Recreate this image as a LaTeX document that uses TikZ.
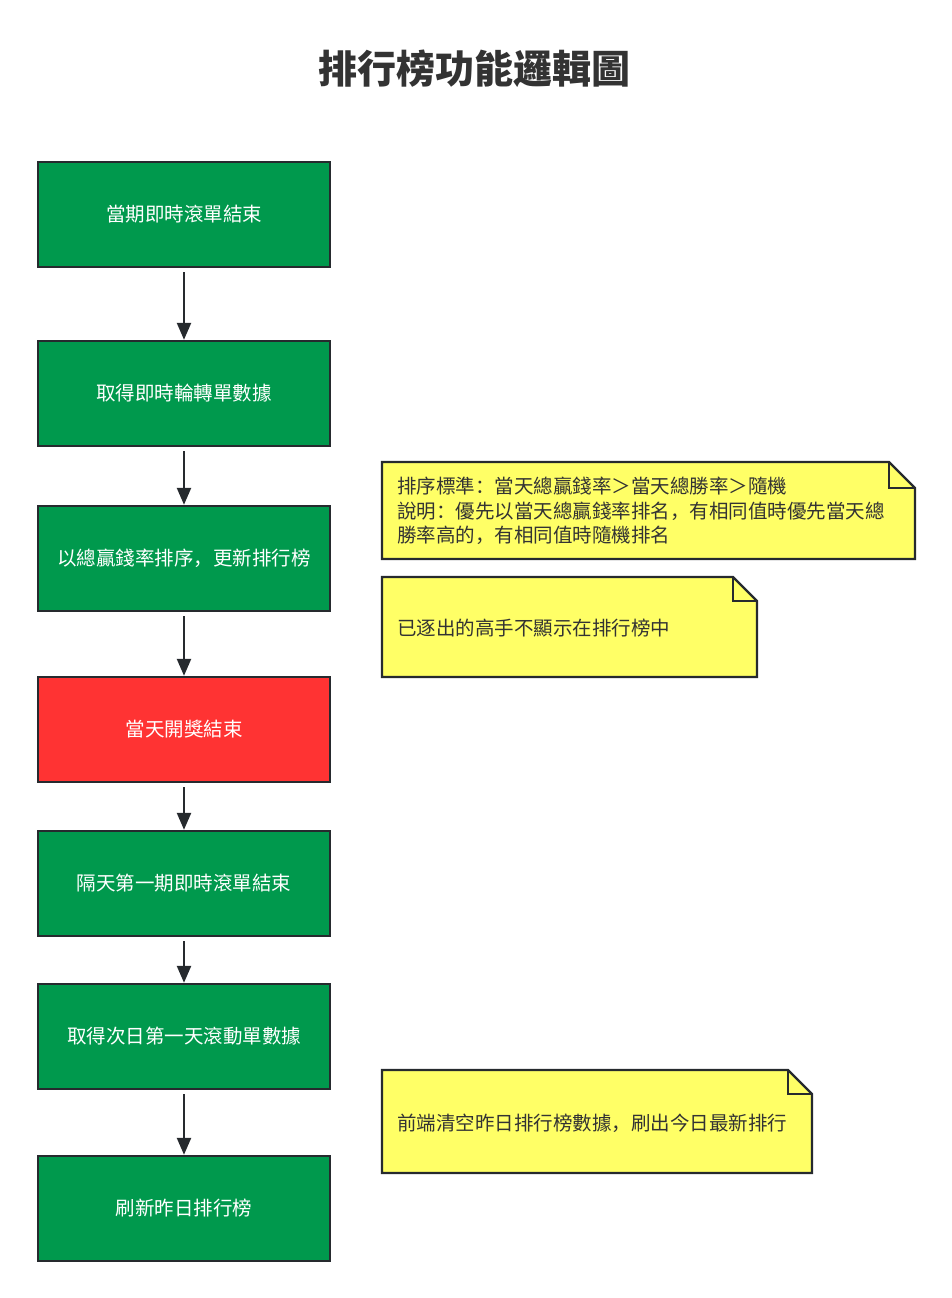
\documentclass[tikz,border=0pt]{standalone}
\usepackage{fontspec}
\setmainfont{Noto Sans CJK SC}
\usetikzlibrary{arrows.meta}
\definecolor{boxgreen}{RGB}{0,153,77}
\definecolor{boxred}{RGB}{255,51,51}
\definecolor{noteyellow}{RGB}{255,255,102}
\definecolor{edgecol}{RGB}{38,42,46}
\definecolor{txtcol}{RGB}{51,51,51}
\tikzset{
  stepbox/.style={draw=edgecol, line width=2.4pt, fill=boxgreen, minimum width=292pt, minimum height=105pt, inner sep=0pt, text=white, font=\fontsize{19.5}{23}\selectfont},
  redbox/.style={stepbox, fill=boxred},
  flow/.style={draw=edgecol, line width=2.4pt, -{Triangle[length=17pt,width=14pt]}, shorten <=4pt},
  notebox/.style={draw=edgecol, line width=2.4pt, fill=noteyellow, line join=miter},
  notetext/.style={anchor=west, text=txtcol, font=\fontsize{19.5}{24.5}\selectfont, align=left, inner sep=0pt}
}
\begin{document}
\begin{tikzpicture}[x=1pt,y=-1pt]
\useasboundingbox (0,0) rectangle (951,1298);
\node[text=txtcol, font=\fontsize{39}{44}\selectfont\bfseries] (title) at (474,69) {排行榜功能邏輯圖};

\node[stepbox] (b1) at (184,214.5) {當期即時滾單結束};
\node[stepbox] (b2) at (184,393.5) {取得即時輪轉單數據};
\node[stepbox] (b3) at (184,558.5) {以總贏錢率排序，更新排行榜};
\node[redbox]  (b4) at (184,729.5) {當天開獎結束};
\node[stepbox] (b5) at (184,883.5) {隔天第一期即時滾單結束};
\node[stepbox] (b6) at (184,1036.5) {取得次日第一天滾動單數據};
\node[stepbox] (b7) at (184,1208.5) {刷新昨日排行榜};

\draw[flow] (b1) -- (b2);
\draw[flow] (b2) -- (b3);
\draw[flow] (b3) -- (b4);
\draw[flow] (b4) -- (b5);
\draw[flow] (b5) -- (b6);
\draw[flow] (b6) -- (b7);

% note 1
\draw[notebox] (382,462) -- (889,462) -- (915,488) -- (915,559) -- (382,559) -- cycle;
\draw[notebox, fill=none] (889,462) -- (889,488) -- (915,488);
\node[notetext] (n1) at (397,511) {排序標準：當天總贏錢率＞當天總勝率＞隨機\\說明：優先以當天總贏錢率排名，有相同值時優先當天總\\勝率高的，有相同值時隨機排名};

% note 2
\draw[notebox] (382,577) -- (733,577) -- (757,601) -- (757,677) -- (382,677) -- cycle;
\draw[notebox, fill=none] (733,577) -- (733,601) -- (757,601);
\node[notetext] (n2) at (397,628) {已逐出的高手不顯示在排行榜中};

% note 3
\draw[notebox] (382,1070) -- (788,1070) -- (812,1094) -- (812,1173) -- (382,1173) -- cycle;
\draw[notebox, fill=none] (788,1070) -- (788,1094) -- (812,1094);
\node[notetext] (n3) at (397,1123) {前端清空昨日排行榜數據，刷出今日最新排行};
\end{tikzpicture}
\end{document}
